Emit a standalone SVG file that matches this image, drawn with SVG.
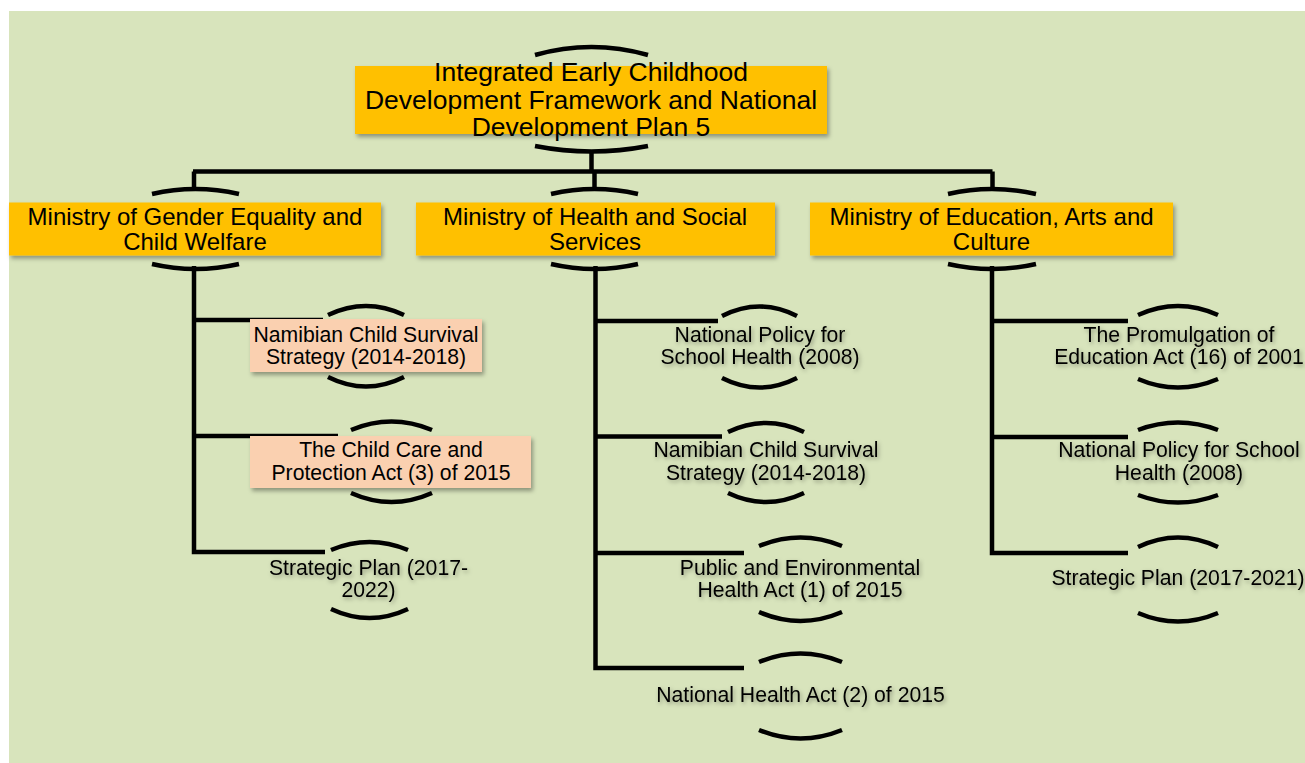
<svg xmlns="http://www.w3.org/2000/svg" width="1305" height="763" viewBox="0 0 1305 763">
<style>
text{font-family:"Liberation Sans",Arial,sans-serif;fill:#000;text-anchor:middle}
.t1{font-size:26.5px}
.t2{font-size:24px}
.t3{font-size:21.2px;filter:url(#tsh)}
.lead{fill:#FFC000;filter:url(#bsh)}
.peach{fill:#FAD0B0;filter:url(#bsh)}
.arc{fill:none;stroke:#000;stroke-width:4.5;stroke-linecap:butt}
.con{fill:none;stroke:#000;stroke-width:4.5;stroke-linejoin:miter}
</style>
<defs>
<filter id="bsh" x="-10%" y="-30%" width="120%" height="160%">
<feDropShadow dx="2" dy="3" stdDeviation="2" flood-color="#000" flood-opacity="0.35"/>
</filter>
<filter id="tsh" x="-10%" y="-40%" width="120%" height="180%">
<feDropShadow dx="1.5" dy="2" stdDeviation="2" flood-color="#000" flood-opacity="0.35"/>
</filter>
</defs>
<rect x="9" y="11" width="1296" height="752" fill="#D8E4BC"/>
<g id="connectors">
<path class="con" d="M591.5 150 V171.5 M193 171.5 H992.5 M194 171.5 V191 M594.5 171.5 V191 M992.5 171.5 V191"/>
<path class="con" d="M194 266 V552 H325 M194 320 H323 M194 436 H338"/>
<path class="con" d="M595.5 266 V668 H744 M595.5 321 H718 M595.5 436.5 H722 M595.5 553 H744"/>
<path class="con" d="M992 266 V553 H1128 M992 321 H1128 M992 437 H1128"/>
</g>
<g id="n-top">
<path class="arc" d="M535 55 Q591.5 39 648 55"/>
<path class="arc" d="M535 146 Q591.5 157 648 146"/>
<rect class="lead" x="355" y="66" width="472" height="68"/>
<text class="t1"><tspan x="591" y="81">Integrated Early Childhood</tspan><tspan x="591" y="108.5">Development Framework and National</tspan><tspan x="591" y="136">Development Plan 5</tspan></text>
</g>
<g id="n-gender">
<path class="arc" d="M152 194 Q195.5 184 239 194"/>
<path class="arc" d="M152 264 Q195.5 274 239 264"/>
<rect class="lead" x="9" y="202.5" width="372" height="53"/>
<text class="t2"><tspan x="195" y="224.5">Ministry of Gender Equality and</tspan><tspan x="195" y="249.5">Child Welfare</tspan></text>
</g>
<g id="n-health">
<path class="arc" d="M551 194 Q594.5 184 638 194"/>
<path class="arc" d="M551 264 Q594.5 274 638 264"/>
<rect class="lead" x="416" y="202.5" width="359" height="53"/>
<text class="t2"><tspan x="595" y="224.5">Ministry of Health and Social</tspan><tspan x="595" y="249.5">Services</tspan></text>
</g>
<g id="n-education">
<path class="arc" d="M948 194 Q992 184 1036 194"/>
<path class="arc" d="M948 264 Q992 274 1036 264"/>
<rect class="lead" x="810" y="202.5" width="363" height="53"/>
<text class="t2"><tspan x="991.5" y="224.5">Ministry of Education, Arts and</tspan><tspan x="991.5" y="249.5">Culture</tspan></text>
</g>
<g id="n-g1">
<path class="arc" d="M328 315 Q366 297 404 315"/>
<path class="arc" d="M328 377 Q366 396 404 377"/>
<rect class="peach" x="250" y="319" width="232" height="53"/>
<text class="t3" style="filter:none"><tspan x="366" y="341.5">Namibian Child Survival</tspan><tspan x="366" y="364">Strategy (2014-2018)</tspan></text>
</g>
<g id="n-g2">
<path class="arc" d="M351 430 Q391.5 413 432 430"/>
<path class="arc" d="M351 493 Q391.5 511 432 493"/>
<rect class="peach" x="250" y="436" width="281" height="52"/>
<text class="t3" style="filter:none"><tspan x="391" y="457">The Child Care and</tspan><tspan x="391" y="479.5">Protection Act (3) of 2015</tspan></text>
</g>
<g id="n-g3">
<path class="arc" d="M331 550 Q369.5 534 408 550"/>
<path class="arc" d="M331 609 Q369.5 627 408 609"/>
<text class="t3"><tspan x="368.5" y="575">Strategic Plan (2017-</tspan><tspan x="368.5" y="596.5">2022)</tspan></text>
</g>
<g id="n-h1">
<path class="arc" d="M722 316 Q759.5 297 797 316"/>
<path class="arc" d="M722 378 Q759.5 397 797 378"/>
<text class="t3"><tspan x="760" y="342">National Policy for</tspan><tspan x="760" y="364">School Health (2008)</tspan></text>
</g>
<g id="n-h2">
<path class="arc" d="M728 432 Q766 414 804 432"/>
<path class="arc" d="M728 493 Q766 511 804 493"/>
<text class="t3"><tspan x="766" y="457">Namibian Child Survival</tspan><tspan x="766" y="479.5">Strategy (2014-2018)</tspan></text>
</g>
<g id="n-h3">
<path class="arc" d="M759 546 Q800.5 529 842 546"/>
<path class="arc" d="M759 612 Q800.5 630 842 612"/>
<text class="t3"><tspan x="800" y="575">Public and Environmental</tspan><tspan x="800" y="597">Health Act (1) of 2015</tspan></text>
</g>
<g id="n-h4">
<path class="arc" d="M759 662 Q800.5 645 842 662"/>
<path class="arc" d="M759 730 Q800.5 747 842 730"/>
<text class="t3"><tspan x="800.5" y="702">National Health Act (2) of 2015</tspan></text>
</g>
<g id="n-e1">
<path class="arc" d="M1138 315 Q1178 297 1218 315"/>
<path class="arc" d="M1138 379 Q1178 396 1218 379"/>
<text class="t3"><tspan x="1179" y="342">The Promulgation of</tspan><tspan x="1179" y="364">Education Act (16) of 2001</tspan></text>
</g>
<g id="n-e2">
<path class="arc" d="M1138 430 Q1178 415 1218 430"/>
<path class="arc" d="M1138 495 Q1178 510 1218 495"/>
<text class="t3"><tspan x="1179" y="457">National Policy for School</tspan><tspan x="1179" y="479.5">Health (2008)</tspan></text>
</g>
<g id="n-e3">
<path class="arc" d="M1138 547 Q1178 528 1218 547"/>
<path class="arc" d="M1138 613 Q1178 630 1218 613"/>
<text class="t3"><tspan x="1178" y="585">Strategic Plan (2017-2021)</tspan></text>
</g>
</svg>
